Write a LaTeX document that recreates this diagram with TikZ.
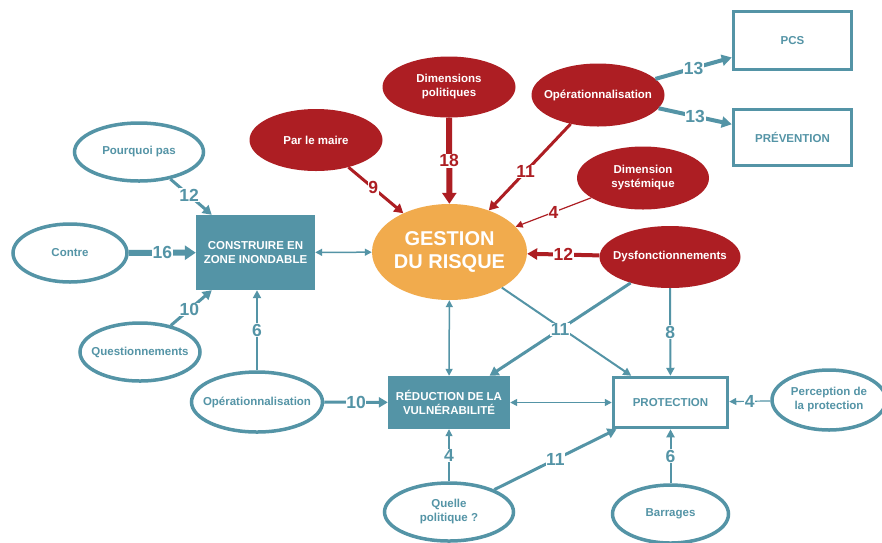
\documentclass[tikz,border=0pt]{standalone}
\usepackage{fontspec}
\setmainfont{Liberation Sans}
\usetikzlibrary{shapes.geometric,arrows.meta}
\definecolor{teal1}{HTML}{5494A6}
\definecolor{red1}{HTML}{AD1E23}
\definecolor{orng}{HTML}{F1AB4D}
\newcommand\myNodeFont{\fontsize{11.5}{14}\selectfont\bfseries}
\newcommand\myLabFont{\fontsize{17.5}{19}\selectfont\bfseries}
\newcommand\myBigFont{\fontsize{20}{23.5}\selectfont\bfseries}
\tikzset{
  ell/.style={ellipse, draw=teal1, line width=3.5pt, fill=white, text=teal1, font=\myNodeFont, inner xsep=-14pt, inner ysep=-10pt, align=center},
  rell/.style={ellipse, fill=red1, text=white, font=\myNodeFont, inner xsep=-14pt, inner ysep=-10pt, align=center},
  gest/.style={ellipse, fill=orng, text=white, font=\myBigFont, inner xsep=-10pt, inner ysep=-5pt, align=center},
  fbox/.style={rectangle, fill=teal1, text=white, font=\myNodeFont, inner sep=0pt, align=center},
  obox/.style={rectangle, draw=teal1, line width=3.5pt, fill=white, text=teal1, font=\myNodeFont, inner sep=0pt, align=center},
  labT/.style={fill=white, text=teal1, font=\myLabFont, inner sep=0.6pt},
  labR/.style={fill=white, text=red1, font=\myLabFont, inner sep=0.6pt},
  a1/.style={line width=1.2pt, -{Triangle[length=7pt,width=7pt]}},
  a2/.style={line width=2pt, -{Triangle[length=8pt,width=8pt]}},
  a3/.style={line width=3pt, -{Triangle[length=9pt,width=10pt]}},
  a4/.style={line width=4pt, -{Triangle[length=10pt,width=11pt]}},
  a6/.style={line width=6pt, -{Triangle[length=11pt,width=14pt]}},
  dbl/.style={line width=1.5pt, draw=teal1, {Triangle[length=7pt,width=7pt]}-{Triangle[length=7pt,width=7pt]}},
  tE/.style={draw=teal1},
  rE/.style={draw=red1},
}
\begin{document}
\begin{tikzpicture}[x=1pt,y=-1pt]
\useasboundingbox (0,0) rectangle (882,542);
\clip (0,0) rectangle (882,542);
\fill[white] (0,0) rectangle (882,542);
% nodes
\node[ell, minimum width=129, minimum height=58] (pp) at (139,152) {Pourquoi pas};
\node[ell, minimum width=114, minimum height=58] (co) at (70,253) {Contre};
\node[ell, minimum width=120, minimum height=58] (qu) at (140,352) {Questionnements};
\node[fbox, minimum width=119, minimum height=75] (cz) at (255.5,252.5) {CONSTRUIRE EN\\ZONE INONDABLE};
\node[ell, minimum width=131, minimum height=60] (opb) at (257,402) {Opérationnalisation};
\node[fbox, minimum width=122, minimum height=53] (rv) at (449,402.5) {RÉDUCTION DE LA\\VULNÉRABILITÉ};
\node[ell, minimum width=129, minimum height=58] (qp) at (449,512) {Quelle\\politique ?};
\node[obox, minimum width=114, minimum height=50] (pr) at (670.5,402.5) {PROTECTION};
\node[ell, minimum width=114, minimum height=60] (pe) at (829,400) {Perception de\\la protection};
\node[ell, minimum width=116, minimum height=58] (ba) at (670.5,514) {Barrages};
\node[gest, minimum width=155, minimum height=96] (ge) at (449.5,252) {GESTION\\DU RISQUE};
\node[rell, minimum width=133, minimum height=62] (pm) at (316,140) {Par le maire};
\node[rell, minimum width=133, minimum height=61] (dp) at (449,87) {Dimensions\\politiques};
\node[rell, minimum width=133, minimum height=63] (opr) at (598,95) {Opérationnalisation};
\node[rell, minimum width=132, minimum height=63] (ds) at (643,178) {Dimension\\systémique};
\node[rell, minimum width=141, minimum height=62] (dy) at (670,257) {Dysfonctionnements};
\node[obox, minimum width=118, minimum height=58] (pcs) at (792.5,40.5) {PCS};
\node[obox, minimum width=118, minimum height=56] (pv) at (792.5,137.5) {PRÉVENTION};
% teal edges
\draw[tE, a3] (pp) -- node[labT, pos=0.45]{12} (cz);
\draw[tE, a6] (co) -- node[labT]{16} (cz);
\draw[tE, a3] (qu) -- node[labT, pos=0.45]{10} (cz);
\draw[tE, a2] (opb) -- node[labT]{6} (opb |- cz.south);
\draw[tE, a3] (opb) -- node[labT]{10} (rv);
\draw[tE, a1] (qp) -- node[labT]{4} (rv);
\draw[tE, a3] (qp) -- node[labT]{11} (pr);
\draw[tE, a1] (pe) -- node[labT]{4} (pr);
\draw[tE, a2] (ba) -- node[labT]{6} (pr);
\draw[tE, a2] (ge) -- (pr);
\draw[tE, a3] (dy) -- node[labT]{11} (rv);
\draw[tE, a2] (dy) -- node[labT]{8} (pr);
\draw[dbl] (cz) -- (ge);
\draw[dbl] (ge) -- (rv);
\draw[dbl] (rv) -- (pr);
\draw[tE, a4] (opr) -- node[labT]{13} (pcs);
\draw[tE, a4] (opr) -- node[labT]{13} (pv);
% red edges
\draw[rE, a3] (pm) -- node[labR, pos=0.45]{9} (ge);
\draw[rE, a6] (dp) -- node[labR]{18} (ge);
\draw[rE, a3] (opr) -- node[labR, pos=0.55]{11} (ge);
\draw[rE, a1] (ds) -- node[labR]{4} (ge);
\draw[rE, a4] (dy) -- node[labR]{12} (ge);
\end{tikzpicture}
\end{document}
